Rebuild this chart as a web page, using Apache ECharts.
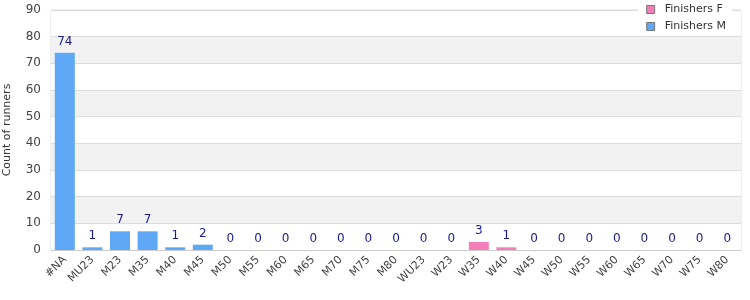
<!DOCTYPE html>
<html><head><meta charset="utf-8">
<script src="https://cdn.jsdelivr.net/npm/echarts@6/dist/echarts.min.js"></script>
<style>html,body{margin:0;padding:0;background:#fff}#c{width:750px;height:300px}</style>
</head><body><div id="c"></div>
<script>
const categories = ['#NA','MU23','M23','M35','M40','M45','M50','M55','M60','M65','M70','M75','M80','WU23','W23','W35','W40','W45','W50','W55','W60','W65','W70','W75','W80'];
const finishersF = [null,null,null,null,null,null,null,null,null,null,null,null,null,0,0,3,1,0,0,0,0,0,0,0,0];
const finishersM = [74,1,7,7,1,2,0,0,0,0,0,0,0,null,null,null,null,null,null,null,null,null,null,null,null];
const yTicks = {min:0,max:90,interval:10};

const chart = echarts.init(document.getElementById('c'));
const lbl = {show:true,position:'top',distance:5,color:'#1a1a8c',fontSize:12,fontFamily:'DejaVu Sans'};
chart.setOption({
  animation:false,
  textStyle:{fontFamily:'DejaVu Sans'},
  grid:{left:51,right:9,top:10,bottom:50,outerBoundsMode:'none',containLabel:false,show:true,borderColor:'#ddd',borderWidth:1,backgroundColor:'transparent'},
  legend:{orient:'vertical',right:18,top:1,itemWidth:8,itemHeight:8,itemGap:6,backgroundColor:'#fff',padding:[3,6,3,8],
    icon:'rect',
    textStyle:{fontSize:11,color:'#333',fontFamily:'DejaVu Sans',padding:[0,0,0,5]},
    data:[{name:'Finishers F',itemStyle:{borderColor:'#777',borderWidth:1}},{name:'Finishers M',itemStyle:{borderColor:'#777',borderWidth:1}}]},
  xAxis:{type:'category',data:categories,axisTick:{show:false},axisLine:{lineStyle:{color:'#ccc'}},
    axisLabel:{rotate:45,interval:0,fontSize:11,color:'#444',margin:8}},
  yAxis:{type:'value',min:yTicks.min,max:yTicks.max,interval:yTicks.interval,
    name:'Count of runners',nameLocation:'middle',nameGap:38,nameRotate:90,nameTextStyle:{fontSize:11,color:'#333'},
    axisLabel:{fontSize:12,color:'#444',margin:10},axisLine:{show:false},axisTick:{show:false},
    splitLine:{lineStyle:{color:'#ddd'}},splitArea:{show:true,areaStyle:{color:['#fff','#f2f2f2']}}},
  series:[
    {name:'Finishers F',type:'bar',stack:'a',data:finishersF,barWidth:20,itemStyle:{color:'#f27fb8'},label:lbl},
    {name:'Finishers M',type:'bar',stack:'a',data:finishersM,barWidth:20,itemStyle:{color:'#5fa8f5'},label:lbl}
  ]
});
</script></body></html>
